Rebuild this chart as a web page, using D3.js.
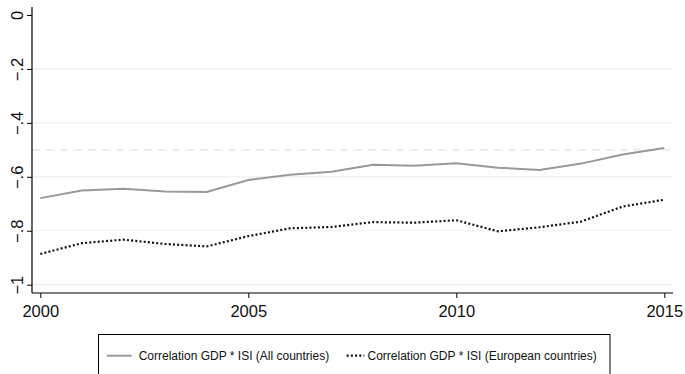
<!DOCTYPE html>
<html>
<head>
<meta charset="utf-8">
<script src="https://cdn.jsdelivr.net/npm/d3@7"></script>
<style>
  html, body { margin: 0; padding: 0; background: #fff; }
  svg { display: block; font-family: "Liberation Sans", Arial, sans-serif; }
</style>
</head>
<body>
<svg id="chart" width="685" height="374"></svg>
<script>
// Yearly correlation between GDP and ISI
const years = [2000, 2001, 2002, 2003, 2004, 2005, 2006, 2007, 2008, 2009, 2010, 2011, 2012, 2013, 2014, 2015];
const allCountries = [-0.679, -0.651, -0.644, -0.654, -0.656, -0.612, -0.592, -0.581, -0.555, -0.559, -0.550, -0.566, -0.575, -0.551, -0.517, -0.493];
const europeanCountries = [-0.886, -0.846, -0.833, -0.849, -0.858, -0.820, -0.791, -0.786, -0.768, -0.770, -0.761, -0.802, -0.787, -0.766, -0.710, -0.685];
const xTicks = [2000, 2005, 2010, 2015];
const yTicks = [0, -0.2, -0.4, -0.6, -0.8, -1];
const yGrid = [-0.2, -0.4, -0.6, -0.8, -1];
const referenceLevel = -0.5;
const seriesLabels = ["Correlation GDP * ISI (All countries)", "Correlation GDP * ISI (European countries)"];

const svg = d3.select("#chart");

const x = d3.scaleLinear().domain([2000, 2015]).range([40.3, 664.3]);
const y = d3.scaleLinear().domain([-1, 0]).range([284.7, 15]);

const plotLeft = 32, plotRight = 673, plotTop = 7, plotBottom = 293;

// Stata-style tick text: "−.2" rather than "-0.2"
const fmtY = v => {
  if (v === 0) return "0";
  if (v === -1) return "\u22121";
  return "\u2212" + d3.format(".1f")(Math.abs(v)).replace(/^0/, "");
};

// grid
svg.append("g").selectAll("line").data(yGrid).join("line")
  .attr("x1", plotLeft).attr("x2", plotRight)
  .attr("y1", d => y(d)).attr("y2", d => y(d))
  .attr("stroke", "#efefef").attr("stroke-width", 1.2);

// reference level
svg.append("line")
  .attr("x1", plotLeft).attr("x2", plotRight)
  .attr("y1", y(referenceLevel)).attr("y2", y(referenceLevel))
  .attr("stroke", "#e2e2e2").attr("stroke-width", 1.3)
  .attr("stroke-dasharray", "8,6");

// axes
const xAxis = svg.append("g").attr("transform", `translate(0,${plotBottom})`)
  .call(d3.axisBottom(x).tickValues(xTicks).tickFormat(d3.format("d")).tickSize(5).tickPadding(0).tickSizeOuter(0));
xAxis.select(".domain").remove();
xAxis.append("line").attr("x1", plotLeft).attr("x2", plotRight).attr("stroke", "#000").attr("stroke-width", 1.2);
xAxis.selectAll(".tick line").attr("stroke", "#000").attr("stroke-width", 1);
xAxis.selectAll(".tick text")
  .attr("dy", null).attr("y", 23.7)
  .attr("font-size", 16.5).attr("fill", "#111")
  .attr("font-family", "Liberation Sans, Arial, sans-serif");

const yAxis = svg.append("g").attr("transform", `translate(${plotLeft},0)`)
  .call(d3.axisLeft(y).tickValues(yTicks).tickFormat(fmtY).tickSize(5).tickSizeOuter(0));
yAxis.select(".domain").remove();
yAxis.append("line").attr("y1", plotTop).attr("y2", plotBottom).attr("stroke", "#000").attr("stroke-width", 1.2);
yAxis.selectAll(".tick line").attr("stroke", "#000").attr("stroke-width", 1);
yAxis.selectAll(".tick text")
  .attr("x", null).attr("dy", null)
  .attr("transform", "translate(-9.5,0) rotate(-90)")
  .attr("text-anchor", "middle")
  .attr("font-size", 16.5).attr("fill", "#111")
  .attr("font-family", "Liberation Sans, Arial, sans-serif");

// series lines
const line = d3.line().x(d => x(d[0])).y(d => y(d[1]));

svg.append("path")
  .datum(years.map((yr, i) => [yr, allCountries[i]]))
  .attr("d", line)
  .attr("fill", "none").attr("stroke", "#999").attr("stroke-width", 2);

svg.append("path")
  .datum(years.map((yr, i) => [yr, europeanCountries[i]]))
  .attr("d", line)
  .attr("fill", "none").attr("stroke", "#111").attr("stroke-width", 2.2)
  .attr("stroke-dasharray", "2,2.2");

// legend
const legend = svg.append("g");
legend.append("rect")
  .attr("x", 98.5).attr("y", 334.5).attr("width", 511.5).attr("height", 45)
  .attr("fill", "#fff").attr("stroke", "#000").attr("stroke-width", 1);

const items = [
  { x0: 106.7, x1: 131.7, tx: 138.7, color: "#999", dash: null, w: 2 },
  { x0: 346.7, x1: 364.3, tx: 367.5, color: "#111", dash: "2,2.2", w: 2.2 }
];
items.forEach((it, i) => {
  legend.append("line")
    .attr("x1", it.x0).attr("x2", it.x1).attr("y1", 355.7).attr("y2", 355.7)
    .attr("stroke", it.color).attr("stroke-width", it.w)
    .attr("stroke-dasharray", it.dash);
  legend.append("text")
    .attr("x", it.tx).attr("y", 360)
    .attr("font-size", 12).attr("fill", "#111")
    .text(seriesLabels[i]);
});
</script>
</body>
</html>
